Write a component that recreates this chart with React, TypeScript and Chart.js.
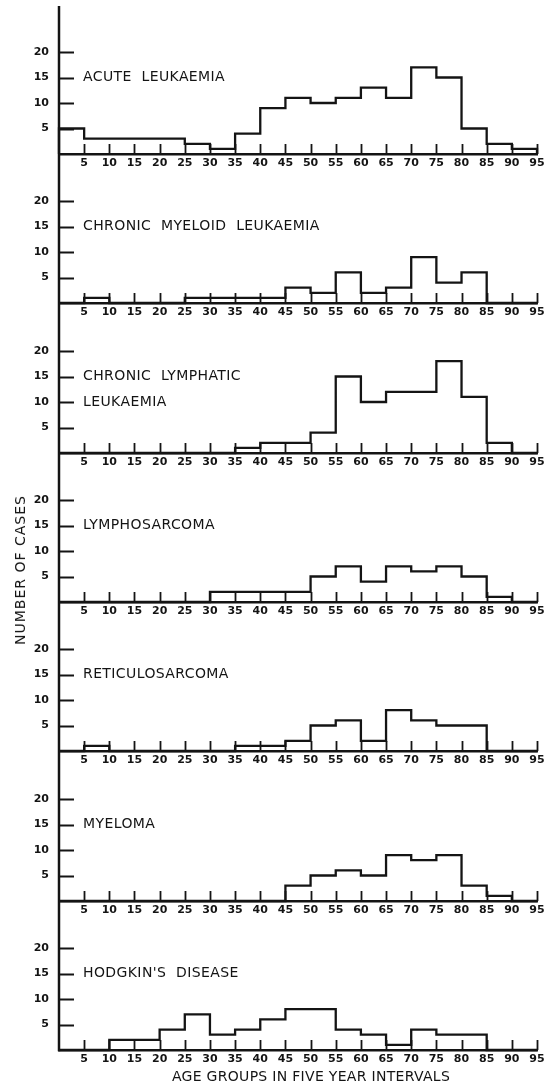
import React, { useEffect, useRef } from "react";
import { Chart, registerables } from "chart.js";

Chart.register(...registerables);

// ---------- data ----------
const BIN_STARTS = [0, 5, 10, 15, 20, 25, 30, 35, 40, 45, 50, 55, 60, 65, 70, 75, 80, 85, 90];
const X_TICKS = [5, 10, 15, 20, 25, 30, 35, 40, 45, 50, 55, 60, 65, 70, 75, 80, 85, 90, 95];
const Y_TICKS = [5, 10, 15, 20];
const X_MAX = 95;

const ACUTE_LEUKAEMIA = [5, 3, 3, 3, 3, 2, 1, 4, 9, 11, 10, 11, 13, 11, 17, 15, 5, 2, 1];
const CHRONIC_MYELOID = [0, 1, 0, 0, 0, 1, 1, 1, 1, 3, 2, 6, 2, 3, 9, 4, 6, 0, 0];
const CHRONIC_LYMPHATIC = [0, 0, 0, 0, 0, 0, 0, 1, 2, 2, 4, 15, 10, 12, 12, 18, 11, 2, 0];
const LYMPHOSARCOMA = [0, 0, 0, 0, 0, 0, 2, 2, 2, 2, 5, 7, 4, 7, 6, 7, 5, 1, 0];
const RETICULOSARCOMA = [0, 1, 0, 0, 0, 0, 0, 1, 1, 2, 5, 6, 2, 8, 6, 5, 5, 0, 0];
const MYELOMA = [0, 0, 0, 0, 0, 0, 0, 0, 0, 3, 5, 6, 5, 9, 8, 9, 3, 1, 0];
const HODGKINS = [0, 0, 2, 2, 4, 7, 3, 4, 6, 8, 8, 4, 3, 1, 4, 3, 3, 0, 0];

const PANEL_VALUES = [
  ACUTE_LEUKAEMIA,
  CHRONIC_MYELOID,
  CHRONIC_LYMPHATIC,
  LYMPHOSARCOMA,
  RETICULOSARCOMA,
  MYELOMA,
  HODGKINS,
];
const PANEL_TITLES = [
  ["ACUTE  LEUKAEMIA"],
  ["CHRONIC  MYELOID  LEUKAEMIA"],
  ["CHRONIC  LYMPHATIC", "LEUKAEMIA"],
  ["LYMPHOSARCOMA"],
  ["RETICULOSARCOMA"],
  ["MYELOMA"],
  ["HODGKIN'S  DISEASE"],
];
const TITLE_LINE_VALUES = [15, 10];
const Y_TITLE = "NUMBER OF CASES";
const X_TITLE = "AGE GROUPS IN FIVE YEAR INTERVALS";

// ---------- layout / style ----------
const FIG_W = 544;
const FIG_H = 1092;
const AXIS_X = 59;
const RIGHT_PAD = 7;
const FIRST_TOP = 6;
const FIRST_BASE = 154;
const STEP = 149.33;
const LABEL_GAP = 20;
const PX_PER_UNIT = 5.1;
const INK = "#141414";
const FONT = "'DejaVu Sans', sans-serif";

function geometry(k: number) {
  const base = Math.round(FIRST_BASE + k * STEP);
  const prevBase = Math.round(FIRST_BASE + (k - 1) * STEP);
  const last = k === PANEL_VALUES.length - 1;
  const top = k === 0 ? 0 : prevBase + LABEL_GAP;
  const bottom = base + LABEL_GAP;
  const height = bottom - top;
  const chartTop = k === 0 ? FIRST_TOP : 0;
  const chartBottom = base - top;
  const yMax = (chartBottom - chartTop) / PX_PER_UNIT;
  return { top, height, chartTop, chartBottom, yMax, last };
}

function Panel({ index }: { index: number }) {
  const ref = useRef<HTMLCanvasElement>(null);
  const g = geometry(index);

  useEffect(() => {
    const canvas = ref.current!;
    const values = PANEL_VALUES[index];
    const titles = PANEL_TITLES[index];
    const points = [
      { x: 0, y: 0 },
      ...values.map((v, i) => ({ x: BIN_STARTS[i], y: v })),
      { x: X_MAX, y: values[values.length - 1] },
      { x: X_MAX, y: 0 },
    ];

    const deco = {
      id: "deco",
      afterDraw(chart: any) {
        const ctx = chart.ctx as CanvasRenderingContext2D;
        const { left, top, bottom } = chart.chartArea;
        const xs = chart.scales.x;
        const ys = chart.scales.y;
        ctx.save();
        ctx.strokeStyle = INK;
        ctx.lineCap = "butt";
        // continuous y axis line
        ctx.lineWidth = 2.5;
        ctx.beginPath();
        ctx.moveTo(left, index === 0 ? top : 0);
        ctx.lineTo(left, g.last ? bottom + 1.25 : chart.height);
        ctx.stroke();
        // inward tick marks
        ctx.lineWidth = 1.8;
        ctx.beginPath();
        X_TICKS.forEach((v) => {
          const px = Math.round(xs.getPixelForValue(v)) + 0.5;
          ctx.moveTo(px, bottom);
          ctx.lineTo(px, bottom - 10);
        });
        Y_TICKS.forEach((v) => {
          const py = Math.round(ys.getPixelForValue(v)) + 0.5;
          ctx.moveTo(left, py);
          ctx.lineTo(left + 15, py);
        });
        ctx.stroke();
        // panel titles
        ctx.fillStyle = INK;
        ctx.font = `14px ${FONT}`;
        ctx.textBaseline = "middle";
        ctx.textAlign = "left";
        (ctx as any).letterSpacing = "0.4px";
        titles.forEach((t, i) => {
          ctx.fillText(t, 83, ys.getPixelForValue(TITLE_LINE_VALUES[i]));
        });
        ctx.restore();
      },
    };

    const tickFont = { family: FONT, size: 11, weight: "bold" as const };

    const chart = new Chart(canvas, {
      type: "line",
      data: {
        datasets: [
          {
            data: points,
            stepped: "before",
            borderColor: INK,
            borderWidth: 2.3,
            pointRadius: 0,
            fill: false,
            clip: false as any,
          } as any,
        ],
      },
      options: {
        animation: false,
        responsive: false,
        events: [],
        layout: { padding: { left: 0, right: RIGHT_PAD, top: g.chartTop, bottom: 0 } },
        plugins: {
          legend: { display: false },
          tooltip: { enabled: false },
          title: { display: false },
        },
        scales: {
          x: {
            type: "linear",
            min: 0,
            max: X_MAX,
            afterBuildTicks: (s: any) => {
              s.ticks = X_TICKS.map((v) => ({ value: v }));
            },
            afterFit: (s: any) => {
              s.height = g.height - g.chartBottom;
              s.paddingLeft = 0;
              s.paddingRight = 0;
            },
            grid: { display: false, drawTicks: false },
            border: { display: true, color: INK, width: 2.5 },
            ticks: {
              color: INK,
              font: tickFont,
              padding: 3,
              autoSkip: false,
              maxRotation: 0,
              minRotation: 0,
            },
          },
          y: {
            type: "linear",
            min: 0,
            max: g.yMax,
            afterBuildTicks: (s: any) => {
              s.ticks = Y_TICKS.map((v) => ({ value: v }));
            },
            afterFit: (s: any) => {
              s.width = AXIS_X;
              s.paddingTop = 0;
              s.paddingBottom = 0;
            },
            grid: { display: false, drawTicks: false },
            border: { display: false },
            ticks: { color: INK, font: tickFont, padding: 10 },
          },
        },
      } as any,
      plugins: [deco],
    });
    return () => chart.destroy();
  }, []);

  return (
    <canvas
      ref={ref}
      width={FIG_W}
      height={g.height}
      style={{ position: "absolute", left: 0, top: g.top, display: "block" }}
    />
  );
}

export default function App() {
  return (
    <div
      style={{
        position: "absolute",
        left: 0,
        top: 0,
        width: FIG_W,
        height: FIG_H,
        background: "#ffffff",
        overflow: "hidden",
      }}
    >
      {PANEL_VALUES.map((_, i) => (
        <Panel key={i} index={i} />
      ))}
      <div
        style={{
          position: "absolute",
          left: 19.5,
          top: 570,
          transform: "translate(-50%, -50%) rotate(-90deg)",
          whiteSpace: "nowrap",
          fontFamily: FONT,
          fontSize: 14,
          letterSpacing: "1px",
          color: INK,
          lineHeight: "16px",
        }}
      >
        {Y_TITLE}
      </div>
      <div
        style={{
          position: "absolute",
          left: 311,
          top: 1076,
          transform: "translate(-50%, -50%)",
          whiteSpace: "nowrap",
          fontFamily: FONT,
          fontSize: 14,
          letterSpacing: "0.3px",
          color: INK,
          lineHeight: "16px",
        }}
      >
        {X_TITLE}
      </div>
    </div>
  );
}
